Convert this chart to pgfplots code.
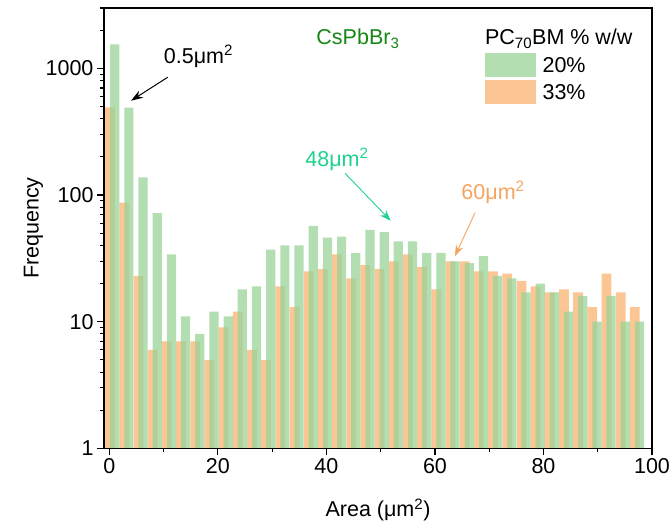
\documentclass[border=0pt]{standalone}
\usepackage{fontspec}
\setmainfont{Liberation Sans}
\usepackage{pgfplots}
\usepackage{pgfplotstable}
\pgfplotsset{compat=1.18}
\usetikzlibrary{arrows.meta}
\newcommand{\fs}{\fontsize{21.5}{25}\selectfont}
\definecolor{barG}{RGB}{152,211,152}
\definecolor{barO}{RGB}{252,198,148}
\definecolor{txtG}{RGB}{20,135,20}
\definecolor{txtT}{RGB}{30,210,140}
\definecolor{txtO}{RGB}{244,164,96}
\pgfplotsset{
  mybarlegend/.style={legend image code/.code={\fill[##1] (0pt,-12pt) rectangle (50.7pt,12pt);}},
}
\pgfplotstableread{
x y
0.97 1550
3.584 491
6.198 138
8.812 72
11.426 34
14.04 11
16.654 8
19.268 12
21.882 11
24.496 18
27.11 19
29.724 37
32.338 40
34.952 40
37.566 57
40.18 46
42.794 47
45.408 35
48.022 53
50.636 51
53.25 43
55.864 43
58.478 35
61.092 35
63.706 30
66.32 29
68.934 33
71.548 23
74.162 22
76.776 17
79.39 20
82.004 17
84.618 12
87.232 16
89.846 10
92.46 16
95.074 10
97.688 10
}\greentab
\pgfplotstableread{
x y
0.12 493
2.734 87
5.348 23
7.962 6
10.576 7
13.19 7
15.804 7
18.418 5
21.032 9
23.646 12
26.26 6
28.874 5
31.488 19
34.102 13
36.716 25
39.33 26
41.944 34
44.558 22
47.172 28
49.786 26
52.4 30
55.014 34
57.628 27
60.242 18
62.856 30
65.47 30
68.084 25
70.698 25
73.312 24
75.926 21
78.54 19
81.154 17
83.768 18
86.382 17
88.996 13
91.61 24
94.224 17
96.838 13
}\orangetab
\begin{document}
\begin{tikzpicture}
\useasboundingbox (-104pt,-76.7pt) rectangle (568pt,448.3pt);
\begin{axis}[
  scale only axis, width=548pt, height=440.3pt,
  xmin=-1, xmax=100, ymode=log, ymin=1, ymax=3000,
  axis on top,
  tick pos=left, tick align=outside,
  xtick={0,20,...,100}, minor xtick={10,30,...,90},
  ytick={1,10,100,1000}, yticklabels={1,10,100,1000},
  minor ytick={2,3,4,5,6,7,8,9,20,30,40,50,60,70,80,90,200,300,400,500,600,700,800,900,2000,3000},
  major tick length=7pt, minor tick length=4pt,
  every tick/.style={black, line width=1.1pt},
  axis line style={line width=1.2pt},
  ticklabel style={font=\fs},
  /pgf/number format/assume math mode=true,
  xlabel={Area (μm\textsuperscript{2})}, ylabel={Frequency},
  label style={font=\fs},
  xlabel style={at={(axis description cs:0.5,-0.14)}, anchor=center},
  ylabel style={at={(axis description cs:-0.1287,0.5)}, anchor=center},
  legend style={at={(axis description cs:0.695,0.897)}, anchor=north west,
    draw=none, fill=none, inner sep=0pt, outer sep=0pt, row sep=3pt, font=\fs,
    nodes={inner xsep=7pt, inner ysep=2pt}},
  legend cell align=left,
  reverse legend,
]
\addplot[ybar, bar shift=0pt, bar width=1.8, draw=none, fill=barO, mybarlegend] table[x=x,y=y] {\orangetab};
\addlegendentry{33\%}
\addplot[ybar, bar shift=0pt, bar width=1.7, draw=none, fill=barG, fill opacity=0.75, mybarlegend] table[x=x,y=y] {\greentab};
\addlegendentry{20\%}
\node[font=\fs, anchor=base] at (axis cs:16.4,1097) {0.5μm\textsuperscript{2}};
\draw[-{Stealth[length=12pt,width=8pt]}, line width=1pt] (axis cs:10.74,851) -- (axis cs:3.98,556);
\node[font=\fs, text=txtG, anchor=base] at (axis cs:45.8,1531) {CsPbBr\textsubscript{3}};
\node[font=\fs, text=txtT, anchor=base] at (axis cs:41.94,169.5) {48μm\textsuperscript{2}};
\draw[txtT, -{Stealth[length=11pt,width=8pt]}, line width=0.9pt] (axis cs:43.42,148.5) -- (axis cs:51.84,62.7);
\node[font=\fs, text=txtO, anchor=base] at (axis cs:70.7,92.5) {60μm\textsuperscript{2}};
\draw[txtO, -{Stealth[length=11pt,width=8pt]}, line width=0.9pt] (axis cs:67.38,72.5) -- (axis cs:63.69,33);
\node[font=\fs, anchor=base west, inner sep=0pt] at (axis description cs:0.695,0.916) {PC\textsubscript{70}BM \% w/w};
\end{axis}
\end{tikzpicture}
\end{document}
